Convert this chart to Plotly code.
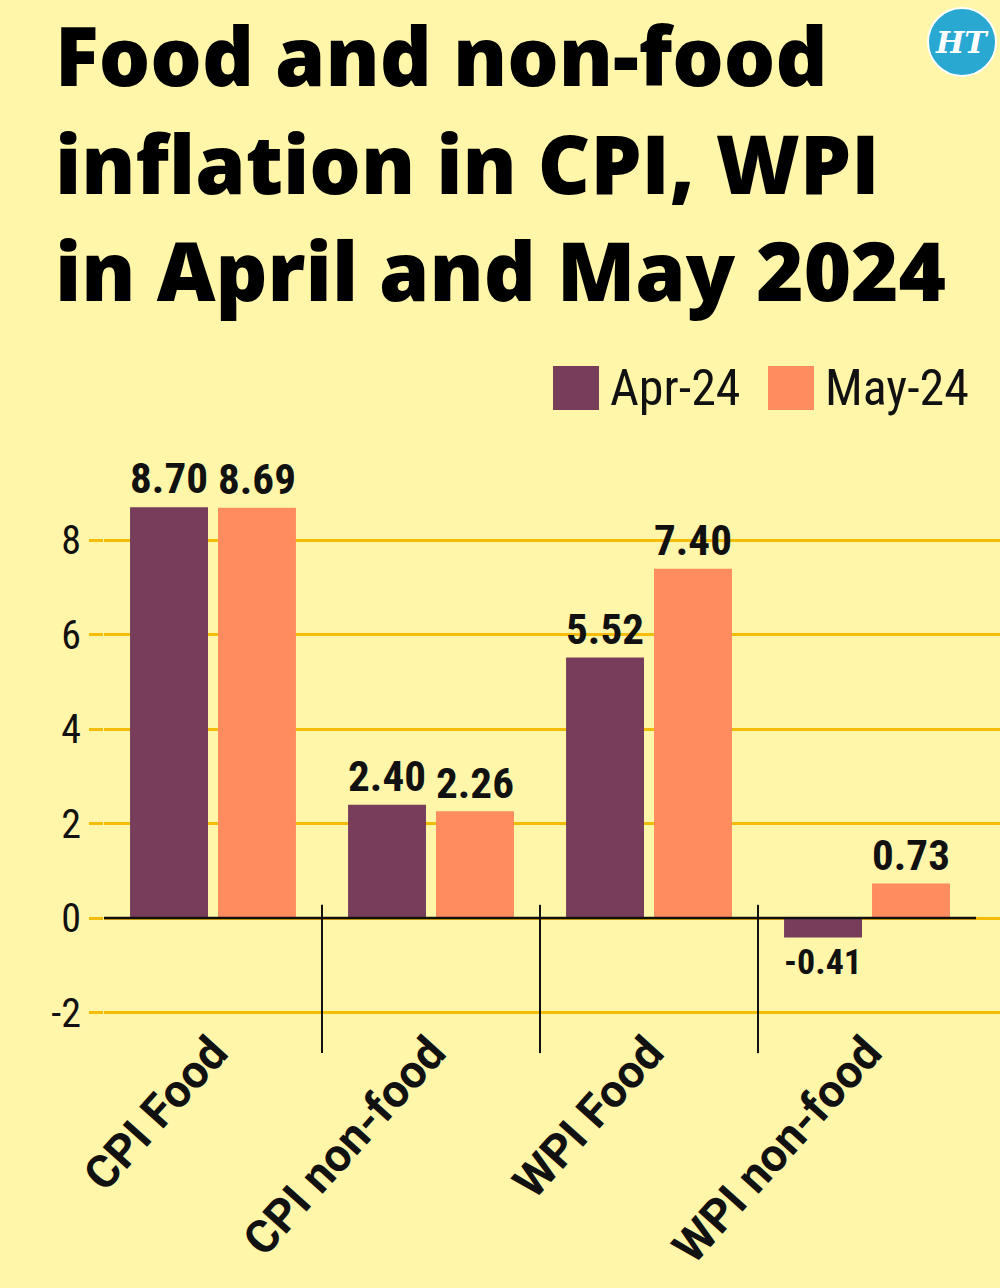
import plotly.graph_objects as go

categories = ["CPI Food", "CPI non-food", "WPI Food", "WPI non-food"]
apr_24 = [8.70, 2.40, 5.52, -0.41]
may_24 = [8.69, 2.26, 7.40, 0.73]
series_names = ["Apr-24", "May-24"]
y_ticks = [-2, 0, 2, 4, 6, 8]
y_tick_text = ["-2", "0", "2", "4", "6", "8"]
title_lines = ["Food and non-food", "inflation in CPI, WPI", "in April and May 2024"]

BG = "#FFF6AA"
APR_COLOR = "#773D5A"
MAY_COLOR = "#FF8C5E"
GRID = "#F5BD0A"
COND = "Roboto Condensed, Liberation Sans Narrow, Roboto, sans-serif"
WIDE = "Roboto, Open Sans, sans-serif"
TITLE_FONT = "Open Sans, Roboto, sans-serif"

# plot area geometry (pixels)
L, R, T, B = 104, 0, 427, 233
PW, PH = 1000 - L - R, 1288 - T - B


def px(xp):
    return (xp - L) / PW


def py(yp):
    return (1288 - B - yp) / PH


fig = go.Figure()
for name, vals, col in [(series_names[0], apr_24, APR_COLOR), (series_names[1], may_24, MAY_COLOR)]:
    fig.add_trace(go.Bar(
        x=categories, y=vals, name=name, marker=dict(color=col, line=dict(width=0)),
        text=[f"{v:.2f}" for v in vals], textposition="outside", cliponaxis=False,
        textfont=dict(family=COND, size=44, color="#111111", weight="bold"),
        showlegend=False,
    ))

# zero line and category separators
fig.add_shape(type="line", x0=-0.5, x1=3.5, y0=0, y1=0, xref="x", yref="y",
              line=dict(color="#111111", width=2.5))
for b in [0.5, 1.5, 2.5]:
    fig.add_shape(type="line", x0=b, x1=b, y0=0.28, y1=-2.86, xref="x", yref="y",
                  line=dict(color="#111111", width=2))

# legend (manual, large swatches)
leg_y = 388
for name, col, lx in [(series_names[0], APR_COLOR, 553), (series_names[1], MAY_COLOR, 768)]:
    fig.add_shape(type="rect", xref="paper", yref="paper",
                  x0=px(lx), x1=px(lx + 46), y0=py(leg_y + 22), y1=py(leg_y - 22),
                  fillcolor=col, line=dict(width=0))
    fig.add_annotation(text=name, xref="paper", yref="paper", x=px(lx + 55),
                       y=py(leg_y), xanchor="left", yanchor="middle",
                       showarrow=False, font=dict(family=COND, size=50, color="#111111"))

# title, one annotation per line
for i, line in enumerate(title_lines):
    fig.add_annotation(text=line, xref="paper", yref="paper",
                       x=px(53), y=py(55 + 107 * i), xanchor="left", yanchor="middle",
                       showarrow=False,
                       font=dict(family=TITLE_FONT, size=81, color="#000000", weight=800))

# HT logo
fig.add_shape(type="circle", xref="paper", yref="paper",
              x0=px(928), x1=px(996), y0=py(76), y1=py(8),
              fillcolor="#29A8D2", line=dict(color="#FFFFFF", width=2))
fig.add_annotation(text="<b><i>HT</i></b>", xref="paper", yref="paper",
                   x=px(962), y=py(42), xanchor="center", yanchor="middle", showarrow=False,
                   font=dict(family="DejaVu Serif", size=30, color="#FFFFFF"))

fig.update_layout(
    width=1000, height=1288,
    margin=dict(l=L, r=R, t=T, b=B),
    paper_bgcolor=BG, plot_bgcolor=BG,
    barmode="group", bargap=0.193, bargroupgap=0.114,
    xaxis=dict(range=[-0.5, 3.61], showgrid=False, zeroline=False, showline=False,
               tickangle=-48, ticks="", ticklabelstandoff=-40,
               tickfont=dict(family=WIDE, size=46, color="#111111", weight="bold")),
    yaxis=dict(range=[-2.9, 10.4], tickvals=y_ticks, ticktext=y_tick_text,
               showgrid=True, gridcolor=GRID, gridwidth=2.5, zeroline=False, showline=False,
               ticks="outside", ticklen=14, tickcolor=GRID, tickwidth=2.5,
               tickfont=dict(family=COND, size=40, color="#111111")),
)

fig.write_html("out.html")
